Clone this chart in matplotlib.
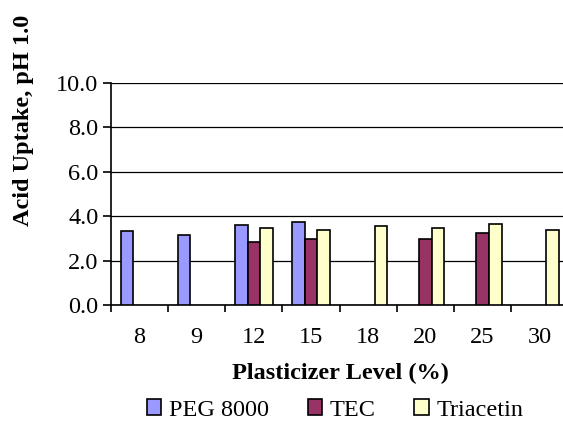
import numpy as np
import matplotlib
matplotlib.use("Agg")
import matplotlib.pyplot as plt

# plasticizer levels and acid uptake per plasticizer (nan = not tested)
levels = ["8", "9", "12", "15", "18", "20", "25", "30"]
peg_8000 = [3.32, 3.17, 3.59, 3.73, np.nan, np.nan, np.nan, np.nan]
tec = [np.nan, np.nan, 2.82, 2.97, np.nan, 2.99, 3.24, np.nan]
triacetin = [np.nan, np.nan, 3.48, 3.39, 3.57, 3.48, 3.65, 3.39]

plt.rcParams['font.family'] = ['Liberation Serif', 'DejaVu Serif']
fs = 17.5

fig = plt.figure(figsize=(5.63, 4.30), dpi=100)
# plot area runs past the right edge of the picture, as in the original
ax = fig.add_axes([111 / 563, 1 - 305 / 430, 457.2 / 563, 222 / 430])

x = np.arange(len(levels))
w = 1 / 4.5
series = [("PEG 8000", peg_8000, "#9999FF"),
          ("TEC", tec, "#993366"),
          ("Triacetin", triacetin, "#FFFFCC")]
for i, (name, vals, col) in enumerate(series):
    ax.bar(x + (i - 1) * w, vals, w, color=col, edgecolor="black",
           linewidth=1.2, label=name, zorder=3)

ax.set_xlim(-0.5, len(levels) - 0.5)
ax.set_ylim(0, 10)
ax.set_yticks(np.arange(0, 10.1, 2))
ax.set_yticklabels(["%.1f" % v for v in np.arange(0, 10.1, 2)])
ax.yaxis.grid(True, color="black", linewidth=0.9, zorder=0)

ax.set_xticks(x)
ax.set_xticklabels(levels)
ax.set_xticks(np.arange(-0.5, len(levels), 1), minor=True)
ax.tick_params(axis="x", which="major", length=0, pad=16, labelsize=fs)
ax.tick_params(axis="x", which="minor", length=5, direction="out", width=1.2)
ax.tick_params(axis="y", length=6, direction="out", labelsize=fs, pad=3,
               width=1.2)

for s in ["top", "right"]:
    ax.spines[s].set_visible(False)
ax.spines["left"].set_linewidth(1.2)
ax.spines["bottom"].set_linewidth(1.2)

fig.text(340 / 563, 1 - 373 / 430, "Plasticizer Level (%)", fontsize=fs,
         fontweight="bold", ha="center", va="center")
fig.text(24 / 563, 1 - 120 / 430, "Acid Uptake, pH 1.0", rotation=90,
         fontsize=fs, fontweight="bold", ha="center", va="center")

fig.legend(loc="center", bbox_to_anchor=(335 / 563, 1 - 410 / 430), ncol=3,
           frameon=False, fontsize=fs, handlelength=0.6, handleheight=0.6,
           handletextpad=0.3, columnspacing=1.6, borderpad=0)

fig.savefig("out.png", dpi=100)
